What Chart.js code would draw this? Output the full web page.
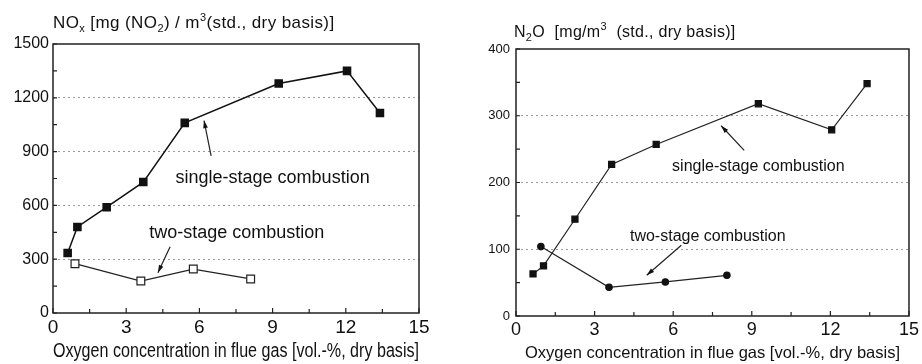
<!DOCTYPE html>
<html>
<head>
<meta charset="utf-8">
<script src="https://cdn.jsdelivr.net/npm/chart.js@4"></script>
<style>
  body { margin: 0; background: #fff; }
  #wrap { position: relative; width: 922px; height: 364px; font-family: 'Liberation Sans', Arial, sans-serif; color: #111; }
  .pane { position: absolute; top: 0; width: 461px; height: 364px; }
  .ttl { position: absolute; white-space: nowrap; line-height: 20px; }
  .ttl sub { font-size: 11px; line-height: 0; position: relative; top: 4px; vertical-align: baseline; }
  .ttl sup { font-size: 11px; line-height: 0; position: relative; top: -7px; vertical-align: baseline; }
</style>
</head>
<body>
<div id="wrap">
  <div class="pane" style="left:0"><canvas id="noxChart" width="461" height="364"></canvas></div>
  <div class="pane" style="left:461px"><canvas id="n2oChart" width="461" height="364"></canvas></div>
  <div class="ttl" style="left:53px; top:13px; font-size:17px; letter-spacing:0.4px">NO<sub>x</sub> [mg (NO<sub>2</sub>) / m<sup>3</sup>(std., dry basis)]</div>
  <div class="ttl" style="left:514px; top:22px; font-size:16px; letter-spacing:0.3px">N<sub>2</sub>O &nbsp;[mg/m<sup>3</sup> &nbsp;(std., dry basis)]</div>
</div>
<script>
// ---- NOx panel (left) ----
const noxSingleX = [0.6, 1.0, 2.2, 3.7, 5.4, 9.25, 12.05, 13.4];
const noxSingleY = [335, 480, 590, 730, 1060, 1280, 1350, 1115];
const noxTwoX    = [0.9, 3.6, 5.75, 8.1];
const noxTwoY    = [275, 178, 245, 190];

// ---- N2O panel (right) ----
const n2oSingleX = [0.65, 1.05, 2.25, 3.65, 5.35, 9.25, 12.05, 13.4];
const n2oSingleY = [63, 75, 145, 227, 257, 318, 279, 348];
const n2oTwoX    = [0.95, 3.55, 5.7, 8.05];
const n2oTwoY    = [104, 43, 51, 61];

const xTicks    = [0, 3, 6, 9, 12, 15];
const noxYTicks = [0, 300, 600, 900, 1200, 1500];
const n2oYTicks = [0, 100, 200, 300, 400];
const xLabel    = 'Oxygen concentration in flue gas [vol.-%, dry basis]';

const pts = (xs, ys) => xs.map((x, i) => ({ x, y: ys[i] }));

// frame, inward ticks and the text/arrow notes
const framePlugin = {
  id: 'frame',
  afterDatasetsDraw(chart, args, opts) {
    const { ctx, chartArea: a, scales: { x, y } } = chart;
    ctx.save();
    ctx.strokeStyle = '#222';
    ctx.lineWidth = 1.5;
    ctx.strokeRect(a.left, a.top, a.right - a.left, a.bottom - a.top);
    ctx.lineWidth = 1.2;
    ctx.beginPath();
    for (let v = x.min; v <= x.max + 1e-9; v += opts.xMinor) {
      const px = x.getPixelForValue(v);
      const len = Math.abs(v % 3) < 1e-6 ? 5 : 4;
      ctx.moveTo(px, a.bottom); ctx.lineTo(px, a.bottom - len);
    }
    for (let v = y.min; v <= y.max + 1e-9; v += opts.yMinor) {
      const py = y.getPixelForValue(v);
      ctx.moveTo(a.left, py); ctx.lineTo(a.left + 4, py);
    }
    ctx.stroke();

    ctx.fillStyle = '#111';
    ctx.font = opts.noteFont;
    ctx.textAlign = 'center';
    ctx.textBaseline = 'middle';
    opts.notes.forEach(n => {
      ctx.fillText(n.text, x.getPixelForValue(n.tx), y.getPixelForValue(n.ty));
      const x0 = x.getPixelForValue(n.ax0), y0 = y.getPixelForValue(n.ay0);
      const x1 = x.getPixelForValue(n.ax1), y1 = y.getPixelForValue(n.ay1);
      const ang = Math.atan2(y1 - y0, x1 - x0);
      ctx.lineWidth = 1.2;
      ctx.beginPath(); ctx.moveTo(x0, y0); ctx.lineTo(x1, y1); ctx.stroke();
      ctx.beginPath();
      ctx.moveTo(x1, y1);
      ctx.lineTo(x1 - 8 * Math.cos(ang - 0.3), y1 - 8 * Math.sin(ang - 0.3));
      ctx.lineTo(x1 - 8 * Math.cos(ang + 0.3), y1 - 8 * Math.sin(ang + 0.3));
      ctx.closePath(); ctx.fill();
    });
    ctx.restore();
  }
};

function makeChart(id, cfg) {
  return new Chart(document.getElementById(id), {
    type: 'scatter',
    data: { datasets: cfg.datasets },
    options: {
      responsive: false,
      animation: false,
      layout: { padding: cfg.padding },
      plugins: {
        legend: { display: false },
        tooltip: { enabled: false },
        frame: { xMinor: 1.5, yMinor: cfg.yMinor, notes: cfg.notes, noteFont: cfg.noteFont }
      },
      scales: {
        x: {
          type: 'linear', min: 0, max: 15,
          afterFit: s => { s.height = cfg.xHeight; },
          afterBuildTicks: s => { s.ticks = xTicks.map(v => ({ value: v })); },
          grid: { display: false, drawTicks: false },
          border: { display: false },
          ticks: { color: '#111', padding: 3, font: { family: 'Liberation Sans', size: cfg.xTickSize },
                   callback: v => String(v) },
          title: { display: true, text: xLabel, color: '#111', padding: { top: 0, bottom: 1 },
                   font: { family: 'Liberation Sans', size: cfg.xTitleSize } }
        },
        y: {
          type: 'linear', min: 0, max: cfg.yMax,
          afterFit: s => { s.width = cfg.yWidth; },
          afterBuildTicks: s => { s.ticks = cfg.yTicks.map(v => ({ value: v })); },
          grid: {
            drawTicks: false, lineWidth: 1,
            color: c => (c.tick && (c.tick.value === 0 || c.tick.value === cfg.yMax)) ? 'rgba(0,0,0,0)' : '#9a9a9a'
          },
          border: { display: false, dash: [2, 3] },
          ticks: { color: '#111', padding: cfg.yPad, font: { family: 'Liberation Sans', size: cfg.yTickSize },
                   callback: v => String(v) }
        }
      }
    },
    plugins: [framePlugin]
  });
}

makeChart('noxChart', {
  padding: { left: 0, right: 42, top: 44, bottom: 0 },
  xHeight: 51, yWidth: 53, yMax: 1500, yTicks: noxYTicks, yMinor: 150,
  xTickSize: 19, xTitleSize: 19.5, yTickSize: 16, yPad: 4,
  noteFont: '18px "Liberation Sans"',
  datasets: [
    { data: pts(noxSingleX, noxSingleY), showLine: true, borderColor: '#111', borderWidth: 1.5,
      pointStyle: 'rect', pointRadius: 5, pointBackgroundColor: '#111', pointBorderColor: '#111' },
    { data: pts(noxTwoX, noxTwoY), showLine: true, borderColor: '#222', borderWidth: 1.2,
      pointStyle: 'rect', pointRadius: 5.5, pointBackgroundColor: '#fff', pointBorderColor: '#222', pointBorderWidth: 1.2 }
  ],
  notes: [
    { text: 'single-stage combustion', tx: 9.0, ty: 753, ax0: 6.48, ay0: 876, ax1: 6.19, ay1: 1073 },
    { text: 'two-stage combustion', tx: 7.53, ty: 444, ax0: 4.8, ay0: 370, ax1: 4.3, ay1: 225 }
  ]
});

makeChart('n2oChart', {
  padding: { left: 0, right: 10, top: 49, bottom: 0 },
  xHeight: 48, yWidth: 55, yMax: 400, yTicks: n2oYTicks, yMinor: 50,
  xTickSize: 18, xTitleSize: 16.5, yTickSize: 13, yPad: 6,
  noteFont: '16px "Liberation Sans"',
  datasets: [
    { data: pts(n2oSingleX, n2oSingleY), showLine: true, borderColor: '#222', borderWidth: 1.2,
      pointStyle: 'rect', pointRadius: 4.3, pointBackgroundColor: '#111', pointBorderColor: '#111' },
    { data: pts(n2oTwoX, n2oTwoY), showLine: true, borderColor: '#222', borderWidth: 1.2,
      pointStyle: 'circle', pointRadius: 3.2, pointBackgroundColor: '#111', pointBorderColor: '#111' }
  ],
  notes: [
    { text: 'single-stage combustion', tx: 9.25, ty: 224, ax0: 8.71, ay0: 248, ax1: 7.83, ay1: 285 },
    { text: 'two-stage combustion', tx: 7.32, ty: 119, ax0: 6.31, ay0: 106, ax1: 4.99, ay1: 61 }
  ]
});
</script>
</body>
</html>
